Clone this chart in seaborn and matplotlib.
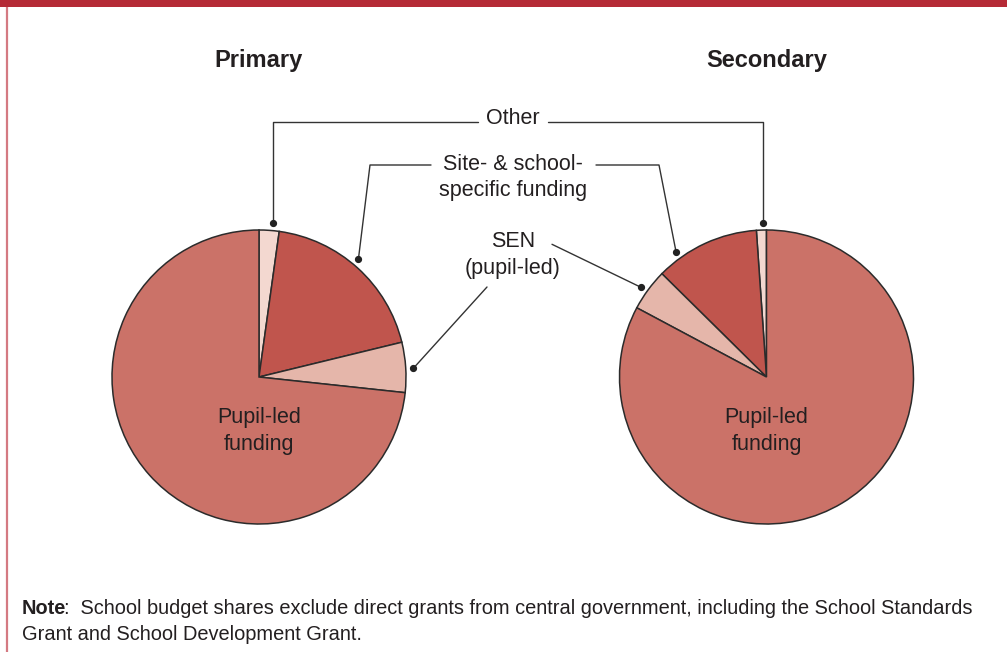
import numpy as np
import matplotlib
matplotlib.use("Agg")
import matplotlib.pyplot as plt
import seaborn as sns

# Shares of school budgets by funding component (%)
components = ["Other", "Site- & school-specific funding", "SEN (pupil-led)", "Pupil-led funding"]
primary_share = [2.2, 19.0, 5.5, 73.3]
secondary_share = [1.1, 11.5, 4.6, 82.8]
panel_titles = ["Primary", "Secondary"]
note_head = "Note"
note_body = (":  School budget shares exclude direct grants from central government, including the School Standards",
             "Grant and School Development Grant.")

sns.set_theme(style="white")
plt.rcParams["font.family"] = ["Liberation Sans", "DejaVu Sans"]

palette = ["#F3D8D0", "#C0554D", "#E5B6AA", "#CB7268"]
ink = "#231F20"
edge = "#2B2B2B"

W, H = 1007, 658
fig = plt.figure(figsize=(W / 100, H / 100), dpi=100)
ax = fig.add_axes([0, 0, 1, 1])


def py(y):
    # pixel row from the top -> data y (origin bottom)
    return H - y


R = 147
centers = [(259, py(377)), (766.5, py(377))]
shares = [primary_share, secondary_share]
clockwise = [True, False]
wedge_sets = []
for (cx, cy), vals, cw in zip(centers, shares, clockwise):
    wedges, _ = ax.pie(vals, colors=palette, startangle=90, counterclock=not cw,
                       center=(cx, cy), radius=R, frame=True,
                       wedgeprops=dict(edgecolor=edge, linewidth=1.1))
    wedge_sets.append(wedges)

ax.set_xlim(0, W)
ax.set_ylim(0, H)
ax.set_aspect("equal")
ax.axis("off")

# frame: red band on top and thin rule on the left
ax.add_patch(plt.Rectangle((0, py(7)), W, 7, color="#B52A36", lw=0, zorder=5))
ax.plot([7, 7], [py(652), py(7)], color="#D47A82", lw=1.6, solid_capstyle="butt", zorder=5)

# titles
for (cx, _), t in zip(centers, panel_titles):
    ax.text(cx, py(60), t, ha="center", va="center", fontsize=17,
            fontweight="bold", color=ink)

label_fs = 15.5
spacing = 1.36

# inner labels
for (cx, _) in centers:
    ax.text(cx, py(431), "Pupil-led\nfunding", ha="center", va="center",
            fontsize=label_fs, color=ink, linespacing=spacing)

# leader anchors: a point just outside the rim, at a fraction of the wedge's
# angular span measured from its lower (theta1) edge
anchor_frac = [[0.33, 0.53, 0.47], [0.35, 0.77, 0.55]]
anchor_r = R + 7.5


def anchor(wedge, frac, cx, cy):
    t1, t2 = wedge.theta1, wedge.theta2
    ang = np.deg2rad(t1 + (t2 - t1) * frac)
    return cx + anchor_r * np.cos(ang), cy + anchor_r * np.sin(ang)


# centre labels
label_x = 513
ax.text(label_x, py(119), "Other", ha="center", va="center", fontsize=label_fs, color=ink)
ax.text(label_x, py(177.5), "Site- & school-\nspecific funding", ha="center", va="center",
        fontsize=label_fs, color=ink, linespacing=spacing)
ax.text(label_x, py(255), "SEN\n(pupil-led)", ha="center", va="center",
        fontsize=label_fs, color=ink, linespacing=spacing)

line_kw = dict(color="#333333", lw=1.0, zorder=4)
dot_kw = dict(marker="o", ms=4.2, color="#222222", zorder=6, ls="none")

# routes from each anchor towards the centre labels (pixel layout)
routes = [
    [  # primary
        lambda ax_, ay_: ([ax_, ax_, 478], [ay_, py(121.7), py(121.7)]),
        lambda ax_, ay_: ([ax_, 370, 431], [ay_, py(165), py(165)]),
        lambda ax_, ay_: ([ax_, 487], [ay_, py(287)]),
    ],
    [  # secondary
        lambda ax_, ay_: ([ax_, ax_, 548], [ay_, py(121.7), py(121.7)]),
        lambda ax_, ay_: ([ax_, 659, 596], [ay_, py(165), py(165)]),
        lambda ax_, ay_: ([ax_, 552], [ay_, py(244.3)]),
    ],
]

for k, ((cx, cy), wedges) in enumerate(zip(centers, wedge_sets)):
    for i in range(3):
        x0, y0 = anchor(wedges[i], anchor_frac[k][i], cx, cy)
        xs, ys = routes[k][i](x0, y0)
        ax.plot(xs, ys, **line_kw)
        ax.plot([x0], [y0], **dot_kw)

# note
note_fs = 14.4
head = ax.text(22, py(609), note_head, ha="left", va="center", fontsize=note_fs,
               fontweight="bold", color=ink)
fig.canvas.draw()
bb = head.get_window_extent(renderer=fig.canvas.get_renderer())
x_after = ax.transData.inverted().transform((bb.x1, bb.y0))[0] - 2
ax.text(x_after, py(609), note_body[0], ha="left", va="center", fontsize=note_fs, color=ink)
ax.text(22, py(634), note_body[1], ha="left", va="center", fontsize=note_fs, color=ink)

fig.savefig("out.png", dpi=100, facecolor="white")
